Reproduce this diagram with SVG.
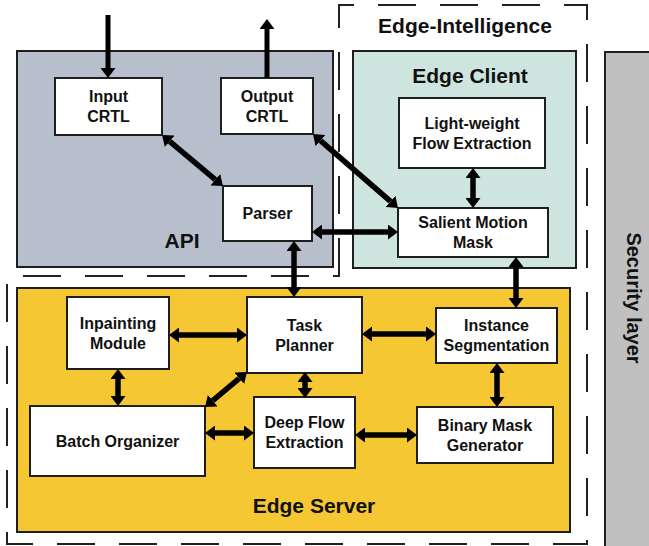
<svg xmlns="http://www.w3.org/2000/svg" width="649" height="546" viewBox="0 0 649 546">
  <style>
    .region { stroke: #1e1e1e; stroke-width: 2; }
    .api { fill: #b7bfcc; }
    .client { fill: #cde5de; }
    .server { fill: #f5c733; }
    .security { fill: #c0c0c0; }
    .node rect { fill: #ffffff; stroke: #1e1e1e; stroke-width: 2; }
    text { font-family: "Liberation Sans", Arial, sans-serif; font-weight: bold; fill: #111111; text-anchor: middle; }
    .label { font-size: 16px; }
    .title { font-size: 21px; }
    .dash { fill: none; stroke: #222222; stroke-width: 2; stroke-dasharray: 38 24; }
    .link { stroke: #000000; stroke-width: 5.5; fill: none; marker-start: url(#head); marker-end: url(#head); }
    .one { stroke: #000000; stroke-width: 5; fill: none; marker-end: url(#head); }
  </style>
  <defs>
    <marker id="head" viewBox="0 0 10 15" refX="0" refY="7.5" markerWidth="10" markerHeight="15" markerUnits="userSpaceOnUse" orient="auto-start-reverse">
      <path d="M0,0 L10,7.5 L0,15 Z" fill="#000000"/>
    </marker>
  </defs>

  <!-- background -->
  <rect x="0" y="0" width="649" height="546" fill="#ffffff"/>

  <!-- security layer band -->
  <g id="security-layer">
    <rect class="region security" x="605" y="52" width="50" height="500"/>
    <text class="title" style="font-size:20px" transform="translate(627,298) rotate(90)">Security layer</text>
  </g>

  <!-- edge-intelligence dashed boundary -->
  <g id="edge-intelligence">
    <path class="dash" d="M339,276 L339,5 L587,5 L587,544 L7,544 L7,276 Z"/>
    <text class="title" x="465" y="33">Edge-Intelligence</text>
  </g>

  <!-- API region -->
  <g id="api">
    <rect class="region api" x="17" y="51" width="316" height="216"/>
    <text class="title" x="182" y="248">API</text>
  </g>

  <!-- edge client region -->
  <g id="edge-client">
    <rect class="region client" x="353" y="51" width="223" height="217"/>
    <text class="title" x="470" y="83">Edge Client</text>
  </g>

  <!-- edge server region -->
  <g id="edge-server">
    <rect class="region server" x="17" y="288" width="553" height="244"/>
    <text class="title" x="314" y="513">Edge Server</text>
  </g>

  <!-- nodes -->
  <g id="input-crtl" class="node">
    <rect x="55" y="78" width="107" height="57"/>
    <text class="label" x="108.5" y="102">Input</text>
    <text class="label" x="108.5" y="122">CRTL</text>
  </g>
  <g id="output-crtl" class="node">
    <rect x="221" y="78" width="92" height="56"/>
    <text class="label" x="267" y="102">Output</text>
    <text class="label" x="267" y="122">CRTL</text>
  </g>
  <g id="parser" class="node">
    <rect x="223" y="186" width="89" height="55"/>
    <text class="label" x="267.5" y="219">Parser</text>
  </g>
  <g id="light-weight-flow" class="node">
    <rect x="399" y="98" width="146" height="70"/>
    <text class="label" x="472" y="129">Light-weight</text>
    <text class="label" x="472" y="149">Flow Extraction</text>
  </g>
  <g id="salient-motion-mask" class="node">
    <rect x="398" y="208" width="150" height="49"/>
    <text class="label" x="473" y="228">Salient Motion</text>
    <text class="label" x="473" y="248">Mask</text>
  </g>
  <g id="inpainting-module" class="node">
    <rect x="67" y="297" width="102" height="72"/>
    <text class="label" x="118" y="329">Inpainting</text>
    <text class="label" x="118" y="349">Module</text>
  </g>
  <g id="task-planner" class="node">
    <rect x="247" y="297" width="115" height="76"/>
    <text class="label" x="304.5" y="331">Task</text>
    <text class="label" x="304.5" y="351">Planner</text>
  </g>
  <g id="instance-segmentation" class="node">
    <rect x="436" y="308" width="121" height="55"/>
    <text class="label" x="496.5" y="331">Instance</text>
    <text class="label" x="496.5" y="351">Segmentation</text>
  </g>
  <g id="batch-organizer" class="node">
    <rect x="30" y="406" width="175" height="70"/>
    <text class="label" x="117.5" y="447">Batch Organizer</text>
  </g>
  <g id="deep-flow-extraction" class="node">
    <rect x="254" y="397" width="101" height="71"/>
    <text class="label" x="304.5" y="428">Deep Flow</text>
    <text class="label" x="304.5" y="448">Extraction</text>
  </g>
  <g id="binary-mask-generator" class="node">
    <rect x="417" y="407" width="136" height="56"/>
    <text class="label" x="485" y="431">Binary Mask</text>
    <text class="label" x="485" y="451">Generator</text>
  </g>

  <!-- connectors -->
  <g id="connectors">
    <line class="one" x1="108" y1="15" x2="108" y2="68"/>
    <line class="one" x1="267" y1="78" x2="267" y2="29"/>
    <line class="link" x1="169.7" y1="141.4" x2="215.3" y2="179.6"/>
    <line class="link" x1="320.5" y1="140.6" x2="390.5" y2="201.4"/>
    <line class="link" x1="322" y1="232" x2="388" y2="232"/>
    <line class="link" x1="294" y1="251" x2="294" y2="287"/>
    <line class="link" x1="473" y1="178" x2="473" y2="198"/>
    <line class="link" x1="516" y1="267" x2="516" y2="298"/>
    <line class="link" x1="179" y1="335" x2="237" y2="335"/>
    <line class="link" x1="372" y1="334" x2="426" y2="334"/>
    <line class="link" x1="118" y1="379" x2="118" y2="396"/>
    <line class="link" x1="239.3" y1="378.4" x2="212.7" y2="400.6"/>
    <line class="link" x1="305" y1="382" x2="305" y2="388"/>
    <line class="link" x1="215" y1="433" x2="244" y2="433"/>
    <line class="link" x1="365" y1="435" x2="407" y2="435"/>
    <line class="link" x1="497" y1="373" x2="497" y2="397"/>
  </g>
</svg>
